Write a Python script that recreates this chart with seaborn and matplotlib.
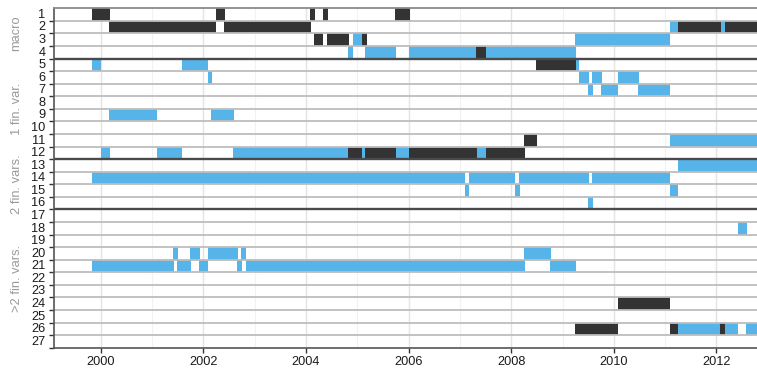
import pandas as pd
import matplotlib
matplotlib.use("Agg")
import matplotlib.pyplot as plt
import seaborn as sns
from matplotlib.ticker import FixedLocator, NullFormatter, FixedFormatter

# rows 1..27, grouped in four panels
row_labels = [str(i) for i in range(1, 28)]
group_names = ['macro', '1 fin. var.', '2 fin. vars.', '>2 fin. vars.']
group_last_row = [4, 12, 16, 27]

# one entry per segment: row, start year, end year, kind
seg_row = [1, 1, 1, 1, 1,
           2, 2, 2, 2, 2, 2,
           3, 3, 3, 3, 3,
           4, 4, 4, 4, 4,
           5, 5, 5, 5,
           6, 6, 6, 6,
           7, 7, 7,
           9, 9,
           11, 11,
           12, 12, 12, 12, 12, 12, 12, 12, 12, 12,
           13,
           14, 14, 14, 14,
           15, 15, 15,
           16,
           18,
           20, 20, 20, 20, 20,
           21, 21, 21, 21, 21, 21,
           24,
           26, 26, 26, 26, 26, 26]
seg_start = [1999.83, 2002.25, 2004.08, 2004.34, 2005.74,
             2000.17, 2002.41, 2011.09, 2011.25, 2012.09, 2012.16,
             2004.16, 2004.41, 2004.92, 2005.10, 2009.24,
             2004.82, 2005.16, 2006.00, 2007.32, 2007.50,
             1999.83, 2001.59, 2008.49, 2009.26,
             2002.09, 2009.33, 2009.57, 2010.09,
             2009.49, 2009.74, 2010.48,
             2000.17, 2002.15,
             2008.24, 2011.09,
             2000.01, 2001.10, 2002.58, 2004.82, 2005.10, 2005.16, 2005.76, 2006.00, 2007.34, 2007.50,
             2011.25,
             1999.83, 2007.17, 2008.16, 2009.57,
             2007.09, 2008.08, 2011.09,
             2009.49,
             2012.41,
             2001.41, 2001.74, 2002.09, 2002.74, 2008.24,
             1999.83, 2001.49, 2001.92, 2002.66, 2002.84, 2008.75,
             2010.09,
             2009.24, 2011.09, 2011.25, 2012.07, 2012.16, 2012.57]
seg_end = [2000.18, 2002.43, 2004.17, 2004.43, 2006.02,
           2002.25, 2004.10, 2011.25, 2012.09, 2012.16, 2012.80,
           2004.34, 2004.84, 2005.10, 2005.18, 2011.09,
           2004.92, 2005.76, 2007.32, 2007.50, 2009.26,
           2000.01, 2002.09, 2009.26, 2009.33,
           2002.17, 2009.51, 2009.76, 2010.50,
           2009.59, 2010.09, 2011.09,
           2001.10, 2002.60,
           2008.51, 2012.80,
           2000.18, 2001.59, 2004.82, 2005.10, 2005.16, 2005.76, 2006.00, 2007.34, 2007.50, 2008.26,
           2012.80,
           2007.09, 2008.08, 2009.51, 2011.09,
           2007.17, 2008.18, 2011.25,
           2009.59,
           2012.59,
           2001.51, 2001.94, 2002.68, 2002.84, 2008.77,
           2001.43, 2001.76, 2002.09, 2002.76, 2008.26, 2009.26,
           2011.09,
           2010.09, 2011.25, 2012.07, 2012.16, 2012.41, 2012.80]
seg_kind = ['a', 'a', 'a', 'a', 'a',
            'a', 'a', 'b', 'a', 'b', 'a',
            'a', 'a', 'b', 'a', 'b',
            'b', 'b', 'b', 'a', 'b',
            'b', 'b', 'a', 'b',
            'b', 'b', 'b', 'b',
            'b', 'b', 'b',
            'b', 'b',
            'a', 'b',
            'b', 'b', 'b', 'a', 'b', 'a', 'b', 'a', 'b', 'a',
            'b',
            'b', 'b', 'b', 'b',
            'b', 'b', 'b',
            'b',
            'b',
            'b', 'b', 'b', 'b', 'b',
            'b', 'b', 'b', 'b', 'b', 'b',
            'a',
            'a', 'a', 'b', 'a', 'b', 'b']

year_ticks = [2000, 2002, 2004, 2006, 2008, 2010, 2012]
x_min, x_max = 1999.095, 2012.79

colors = {'a': '#333333', 'b': '#56B4E9'}

df = pd.DataFrame({'row': seg_row, 'start': seg_start, 'end': seg_end, 'kind': seg_kind})
df['width'] = df['end'] - df['start']

sns.set_theme(style='white')
plt.rcParams['font.family'] = ['Liberation Sans', 'DejaVu Sans']

fig = plt.figure(figsize=(7.57, 3.70), dpi=100)
ax = fig.add_axes([54.3 / 757, 1 - 347.7 / 370, 1 - 54.3 / 757, (347.7 - 8.3) / 370])

for kind, sub in df.groupby('kind'):
    ax.barh(sub['row'] - 0.5, sub['width'], left=sub['start'], height=1.0,
            color=colors[kind], linewidth=0, zorder=2)

n_rows = len(row_labels)
ax.set_xlim(x_min, x_max)
ax.set_ylim(n_rows, 0)

# vertical grid
for yr in range(1999, 2013):
    if yr in year_ticks:
        ax.axvline(yr, color='#E3E3E3', lw=1.0, zorder=1)
    else:
        ax.axvline(yr, color='#F2F2F2', lw=0.8, zorder=1)

# row separators
ax.hlines(range(1, n_rows), x_min, x_max, color='#BDBDBD', lw=1.3, zorder=3)
for last in group_last_row[:-1]:
    ax.axhline(last, color='#4A4A4A', lw=1.7, zorder=4)

# y ticks: marks at row bottoms, labels at row centres
ax.yaxis.set_major_locator(FixedLocator(range(1, n_rows + 1)))
ax.yaxis.set_major_formatter(NullFormatter())
ax.yaxis.set_minor_locator(FixedLocator([i - 0.6 for i in range(1, n_rows + 1)]))
ax.yaxis.set_minor_formatter(FixedFormatter(row_labels))
ax.tick_params(axis='y', which='major', left=True, length=3.5, width=1, color='#333333')
ax.tick_params(axis='y', which='minor', left=True, length=0, pad=6.5,
               labelsize=9.2, labelcolor='#1a1a1a')

ax.set_xticks(year_ticks)
ax.set_xticklabels([str(y) for y in year_ticks])
ax.tick_params(axis='x', bottom=True, length=3.5, width=1, color='#333333',
               labelsize=9.2, labelcolor='#1a1a1a', pad=2.5)

for side in ['left', 'bottom']:
    ax.spines[side].set_color('#555555')
    ax.spines[side].set_linewidth(1.2)
ax.spines['top'].set_color('#8A8A8A')
ax.spines['top'].set_linewidth(1.3)
ax.spines['right'].set_visible(False)
for sp in ax.spines.values():
    sp.set_zorder(5)

# group labels on the left
first = 0
for name, last in zip(group_names, group_last_row):
    y_mid = (first + last) / 2
    y_fig = 1 - (8.3 + y_mid * (347.7 - 8.3) / n_rows) / 370
    fig.text(16.5 / 757, y_fig, name, rotation=90, ha='center', va='center',
             color='#9A9A9A', fontsize=9.3)
    first = last

fig.savefig('out.png', dpi=100)
